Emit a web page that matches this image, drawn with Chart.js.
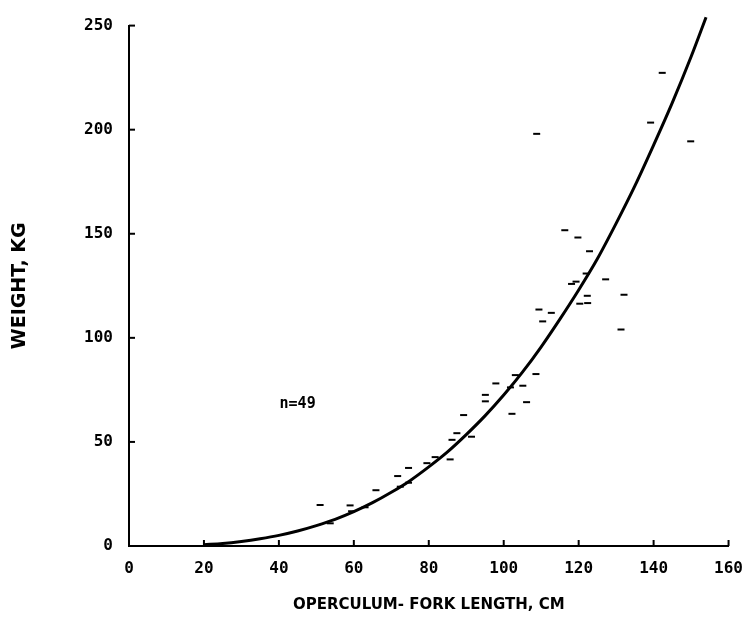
<!DOCTYPE html>
<html>
<head>
<meta charset="utf-8">
<script src="https://cdn.jsdelivr.net/npm/chart.js@4/dist/chart.umd.min.js"></script>
<style>
html,body{margin:0;padding:0;background:#fff;}
#wrap{width:756px;height:624px;}
</style>
</head>
<body>
<div id="wrap"><canvas id="c" width="756" height="624"></canvas></div>
<script>
// Observed data (length cm, weight kg)
const obsLength = [51.0,53.7,59.0,59.4,63.0,65.9,71.7,72.4,74.6,74.6,79.5,81.7,
  85.7,86.2,87.5,91.4,89.3,95.1,95.1,97.9,102.2,101.8,103.1,105.1,106.1,108.6,
  109.4,112.7,110.4,120.3,122.4,122.3,118.1,119.3,122.0,127.2,132.1,122.9,119.8,
  142.3,139.2,149.9,108.8,116.3,131.3];
const obsWeight = [19.7,10.9,19.5,16.7,18.6,26.8,33.6,28.5,37.5,30.4,39.8,42.7,
  41.6,51.0,54.2,52.5,62.9,72.6,69.5,78.1,63.5,76.2,82.1,77.0,69.1,82.6,
  113.6,112.0,107.9,116.4,116.7,120.2,125.9,127.0,130.9,128.1,120.7,141.6,148.2,
  227.3,203.4,194.4,198.0,151.7,104.0];
// Fitted curve
const curveLength = [20,25,30,35,40,45,50,55,60,65,70,75,80,85,90,95,100,105,110,115,120,125,130,135,140,145,150,154];
const curveWeight = [0.6,1.2,2.2,3.5,5.1,7.2,9.8,12.8,16.5,20.8,25.8,31.4,38.0,45.2,53.5,62.5,72.5,83.5,95.7,109,123,138,155,173,192.6,213,235,254];
const xTicks = [0,20,40,60,80,100,120,140,160];
const yTicks = [0,50,100,150,200,250];
const noteText = 'n=49';
const noteAt = {x:45, y:68};

const fontFamily = '"DejaVu Sans Mono", "Liberation Mono", monospace';

const inwardTicks = {
  id:'inwardTicks',
  afterDraw(chart){
    const ctx = chart.ctx, xs = chart.scales.x, ys = chart.scales.y;
    ctx.save();
    ctx.strokeStyle = '#000';
    ctx.lineWidth = 2;
    xTicks.forEach(v=>{
      const px = xs.getPixelForValue(v);
      ctx.beginPath(); ctx.moveTo(px, ys.bottom); ctx.lineTo(px, ys.bottom-6); ctx.stroke();
    });
    yTicks.forEach(v=>{
      const py = ys.getPixelForValue(v);
      ctx.beginPath(); ctx.moveTo(xs.left, py); ctx.lineTo(xs.left+6, py); ctx.stroke();
    });
    ctx.fillStyle = '#000';
    ctx.font = 'bold 15px ' + fontFamily;
    ctx.textAlign = 'center';
    ctx.textBaseline = 'middle';
    ctx.fillText(noteText, xs.getPixelForValue(noteAt.x), ys.getPixelForValue(noteAt.y));
    ctx.restore();
  }
};

new Chart(document.getElementById('c'), {
  type:'scatter',
  data:{
    datasets:[
      {
        label:'Observed',
        data: obsLength.map((x,i)=>({x:x, y:obsWeight[i]})),
        pointStyle:'line',
        pointRadius:3.5,
        pointBorderWidth:2,
        borderColor:'#000',
        backgroundColor:'#000',
        showLine:false
      },
      {
        label:'Fit',
        data: curveLength.map((x,i)=>({x:x, y:curveWeight[i]})),
        showLine:true,
        borderColor:'#000',
        borderWidth:3,
        pointRadius:0,
        cubicInterpolationMode:'monotone',
        fill:false
      }
    ]
  },
  options:{
    responsive:false,
    animation:false,
    clip:false,
    layout:{padding:{top:18,right:27,left:0,bottom:0}},
    plugins:{legend:{display:false}, tooltip:{enabled:false}},
    scales:{
      x:{
        type:'linear', min:0, max:160,
        afterFit(s){ s.height = 78; },
        afterBuildTicks(s){ s.ticks = xTicks.map(v=>({value:v})); },
        grid:{display:true, drawOnChartArea:false, drawTicks:false},
        border:{display:true, color:'#000', width:2},
        ticks:{color:'#000', padding:13, font:{family:fontFamily, size:16, weight:'bold'}, maxRotation:0},
        title:{display:true, text:'OPERCULUM- FORK LENGTH, CM', color:'#000',
          font:{family:'"DejaVu Sans", sans-serif', size:15, weight:'bold'}, padding:{top:0,bottom:10}}
      },
      y:{
        type:'linear', min:0, max:250,
        afterFit(s){ s.width = 129; },
        afterBuildTicks(s){ s.ticks = yTicks.map(v=>({value:v})); },
        grid:{display:true, drawOnChartArea:false, drawTicks:false},
        border:{display:true, color:'#000', width:2},
        ticks:{color:'#000', padding:16, font:{family:fontFamily, size:16, weight:'bold'}},
        title:{display:true, text:'WEIGHT, KG', color:'#000',
          font:{family:'"DejaVu Sans", sans-serif', size:19, weight:'bold'}, padding:{top:9,bottom:0}}
      }
    }
  },
  plugins:[inwardTicks]
});
</script>
</body>
</html>
